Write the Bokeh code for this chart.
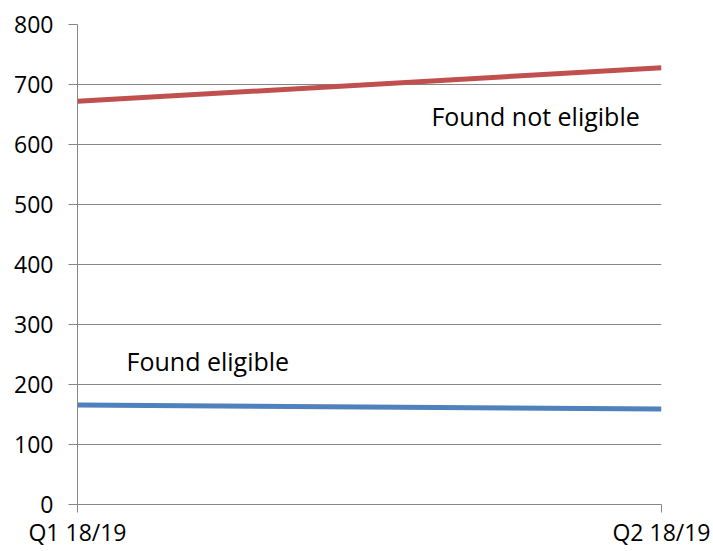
from bokeh.plotting import figure
from bokeh.models import Range1d, FixedTicker, Label
from bokeh.embed import file_html
from bokeh.resources import INLINE

quarters = ["Q1 18/19", "Q2 18/19"]
found_not_eligible = [672, 728]
found_eligible = [166, 159]
y_ticks = [0, 100, 200, 300, 400, 500, 600, 700, 800]

FONT = "Open Sans"
GRID = "#868686"

xs = list(range(len(quarters)))

p = figure(width=713, height=551, output_backend="svg", toolbar_location=None,
           x_range=Range1d(0, len(quarters) - 1), y_range=Range1d(0, 800),
           min_border_left=77, min_border_top=24, min_border_right=52, min_border_bottom=47)
p.outline_line_color = None
p.background_fill_color = "white"
p.border_fill_color = "white"

p.line(xs, found_not_eligible, line_color="#C0504D", line_width=5)
p.line(xs, found_eligible, line_color="#4F81BD", line_width=5)

p.xgrid.visible = False
p.ygrid.grid_line_color = GRID
p.ygrid.grid_line_width = 1
p.ygrid.ticker = FixedTicker(ticks=y_ticks)

p.yaxis.ticker = FixedTicker(ticks=y_ticks)
p.xaxis.ticker = FixedTicker(ticks=xs)
p.xaxis.major_label_overrides = {i: q for i, q in enumerate(quarters)}

for ax in (p.xaxis, p.yaxis):
    ax.axis_line_color = GRID
    ax.major_tick_line_color = GRID
    ax.minor_tick_line_color = None
    ax.major_tick_in = 0
    ax.major_label_text_font = FONT
    ax.major_label_text_font_size = "23px"
    ax.major_label_text_color = "black"
p.yaxis.major_tick_out = 9
p.yaxis.major_label_standoff = 15
p.xaxis.major_tick_out = 8
p.xaxis.major_label_standoff = 3

p.add_layout(Label(x=0.606, y=647, text="Found not eligible", text_font=FONT,
                   text_font_size="25px", text_baseline="alphabetic", text_color="black"))
p.add_layout(Label(x=0.084, y=239, text="Found eligible", text_font=FONT,
                   text_font_size="25px", text_baseline="alphabetic", text_color="black"))

open("out.html", "w").write(file_html(p, INLINE))
